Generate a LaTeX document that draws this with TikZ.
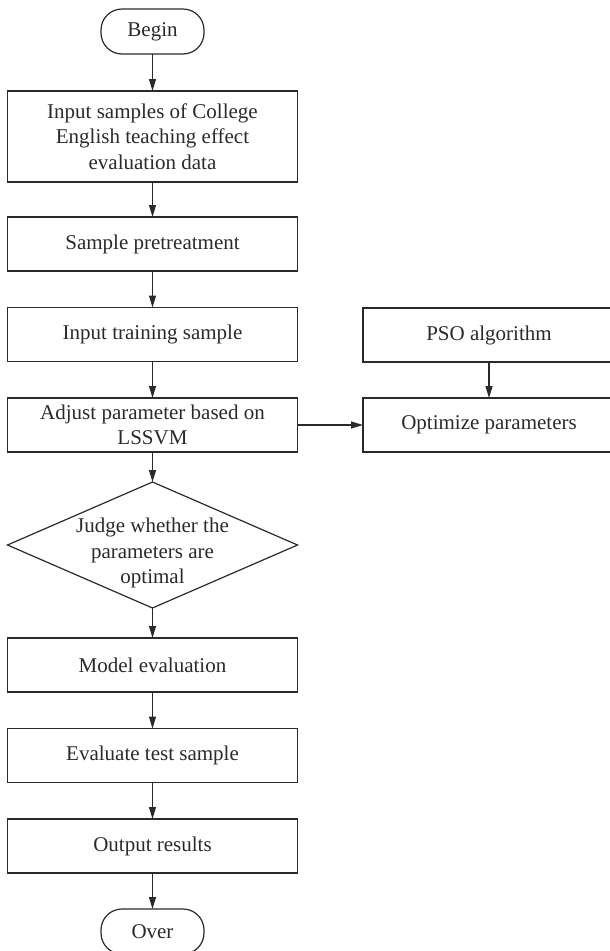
\documentclass[tikz,border=0pt]{standalone}
\usepackage{fontspec}
\setmainfont{Liberation Serif}
\usetikzlibrary{arrows.meta,shapes.geometric}
\definecolor{ink}{HTML}{2A2A2A}
\begin{document}
\begin{tikzpicture}[x=1pt,y=-1pt,
  every node/.style={font=\fontsize{21}{25.5}\selectfont, text=ink, outer sep=0pt},
  stepbox/.style={draw=ink, line width=1.2pt, rectangle, minimum width=290pt,
    minimum height=54pt, inner sep=0pt, align=center},
  sidebox/.style={stepbox, minimum width=252pt},
  terminal/.style={draw=ink, line width=1.2pt, rectangle, rounded corners=21pt,
    minimum width=103pt, minimum height=45pt, inner sep=0pt, align=center},
  decision/.style={draw=ink, line width=1.2pt, diamond, minimum width=290pt,
    minimum height=126pt, inner sep=0pt},
  arr/.style={draw=ink, line width=1.2pt, -{Triangle[length=12pt,width=7pt]}}
]
\path[use as bounding box, clip] (0,0) rectangle (610,951);

% main column
\node[terminal] (begin) at (152.5,31.5) {Begin};
\node[stepbox, minimum height=91pt] (input) at (152.5,136.5)
  {Input samples of College\\English teaching effect\\evaluation data};
\node[stepbox] (pre) at (152.5,244) {Sample pretreatment};
\node[stepbox] (train) at (152.5,334.5) {Input training sample};
\node[stepbox] (adjust) at (152.5,425) {Adjust parameter based on\\LSSVM};
\node[decision] (judge) at (152.5,545) {};
\node[align=center, inner sep=0pt] (judgetext) at (152.5,553)
  {Judge whether the\\parameters are\\optimal};
\node[stepbox] (model) at (152.5,665) {Model evaluation};
\node[stepbox] (test) at (152.5,755.5) {Evaluate test sample};
\node[stepbox] (output) at (152.5,846) {Output results};
\node[terminal] (over) at (152.5,931.5) {Over};

% side column
\node[sidebox] (pso) at (489,335) {PSO algorithm};
\node[sidebox] (optim) at (489,425) {Optimize parameters};

% connectors
\draw[arr] (begin) -- (input);
\draw[arr] (input) -- (pre);
\draw[arr] (pre) -- (train);
\draw[arr] (train) -- (adjust);
\draw[arr] (adjust) -- (judge);
\draw[arr] (judge) -- (model);
\draw[arr] (model) -- (test);
\draw[arr] (test) -- (output);
\draw[arr] (output) -- (over);
\draw[arr] (pso) -- (optim);
\draw[arr] (adjust) -- (optim);
\end{tikzpicture}
\end{document}
